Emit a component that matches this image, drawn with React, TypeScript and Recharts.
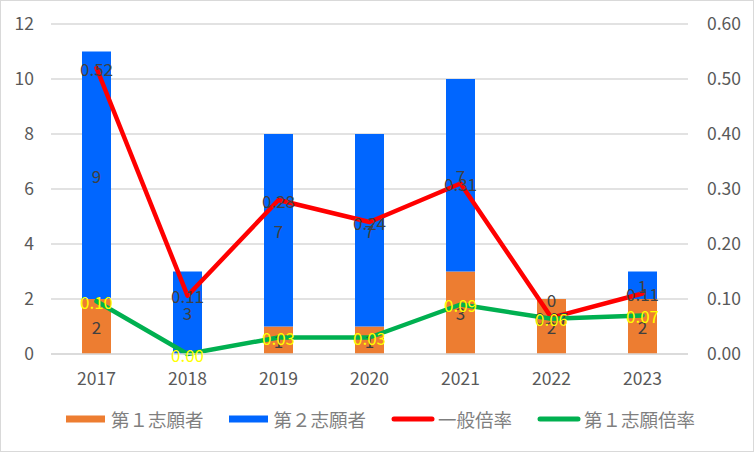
import React from "react";
import {
    ComposedChart,
    Bar,
    Line,
    XAxis,
    YAxis,
    CartesianGrid,
    LabelList,
} from "recharts";

const years = ["2017", "2018", "2019", "2020", "2021", "2022", "2023"];
const daiIchi = [2, 0, 1, 1, 3, 2, 2];
const daiNi = [9, 3, 7, 7, 7, 0, 1];
const ippanBairitsu = [0.52, 0.106, 0.28, 0.24, 0.31, 0.066, 0.11];
const daiIchiBairitsu = [0.096, 0.0, 0.03, 0.03, 0.09, 0.064, 0.07];

const leftTicks = [0, 2, 4, 6, 8, 10, 12];
const rightTicks = [0, 0.1, 0.2, 0.3, 0.4, 0.5, 0.6];

const FONT = '"Noto Sans CJK JP", "Noto Sans", sans-serif';
const ORANGE = "#ed7d31";
const BLUE = "#0066ff";
const RED = "#ff0000";
const GREEN = "#00b050";
const LABEL_SIZE = 17;

const data = years.map((y, i) => ({
    year: y,
    first: daiIchi[i],
    second: daiNi[i],
    general: ippanBairitsu[i],
    firstRate: daiIchiBairitsu[i],
}));

const tickStyle = { fill: "#595959", fontSize: 17.5, fontFamily: FONT };

// labels on the line points, centered like Excel's "center" position
function pointLabel(color: string) {
    return (p: any) => (
        <text
            x={p.x}
            y={p.y}
            textAnchor="middle"
            dominantBaseline="central"
            fill={color}
            fontSize={LABEL_SIZE}
            fontFamily={FONT}
        >
            {Number(p.value).toFixed(2)}
        </text>
    );
}

function barLabel(p: any) {
    if (p.value === undefined || p.value === null) return null;
    return (
        <text
            x={Number(p.x) + Number(p.width) / 2}
            y={Number(p.y) + Number(p.height) / 2}
            textAnchor="middle"
            dominantBaseline="central"
            fill="#404040"
            fontSize={LABEL_SIZE}
            fontFamily={FONT}
        >
            {p.value}
        </text>
    );
}

// a blue segment of 0 has no rect, so its "0" goes on top of the orange one
function zeroSecondLabel(p: any) {
    if (p.value !== 0) return null;
    return (
        <text
            x={Number(p.x) + Number(p.width) / 2}
            y={Number(p.y)}
            textAnchor="middle"
            dominantBaseline="central"
            fill="#404040"
            fontSize={LABEL_SIZE}
            fontFamily={FONT}
        >
            {p.value}
        </text>
    );
}

const legendItems = [
    { name: "第１志願者", color: ORANGE, kind: "bar" },
    { name: "第２志願者", color: BLUE, kind: "bar" },
    { name: "一般倍率", color: RED, kind: "line" },
    { name: "第１志願倍率", color: GREEN, kind: "line" },
];

export default function App() {
    return (
        <div style={{ position: "fixed", top: 0, left: 0, width: 754, height: 452, background: "#fff" }}>
            <ComposedChart
                width={754}
                height={452}
                data={data}
                margin={{ top: 24, right: 0, left: 0, bottom: 58 }}
            >
                <CartesianGrid yAxisId="left" vertical={false} stroke="#d9d9d9" strokeWidth={1.5}/>
                <XAxis
                    dataKey="year"
                    height={40}
                    tickLine={false}
                    axisLine={{ stroke: "#d9d9d9", strokeWidth: 1.5 }}
                    tick={tickStyle}
                    tickMargin={13}
                />
                <YAxis
                    yAxisId="left"
                    width={51}
                    domain={[0, 12]}
                    ticks={leftTicks}
                    tickLine={false}
                    axisLine={false}
                    tick={tickStyle}
                    tickMargin={11}
                />
                <YAxis
                    yAxisId="right"
                    orientation="right"
                    width={66}
                    domain={[0, 0.6]}
                    ticks={rightTicks}
                    tickFormatter={(v: number) => v.toFixed(2)}
                    tickLine={false}
                    axisLine={false}
                    tick={{ ...tickStyle, textAnchor: "start" }}
                    tickMargin={13}
                />
                <Bar yAxisId="left" dataKey="first" stackId="a" fill={ORANGE} barSize={29} isAnimationActive={false}>
                    <LabelList dataKey="first" content={barLabel}/>
                    <LabelList dataKey="second" content={zeroSecondLabel}/>
                </Bar>
                <Bar yAxisId="left" dataKey="second" stackId="a" fill={BLUE} barSize={29} isAnimationActive={false}>
                    <LabelList dataKey="second" content={barLabel}/>
                </Bar>
                <Line
                    yAxisId="right"
                    dataKey="general"
                    stroke={RED}
                    strokeWidth={4.5}
                    dot={false}
                    strokeLinejoin="round"
                    strokeLinecap="round"
                    isAnimationActive={false}
                >
                    <LabelList dataKey="general" content={pointLabel("#404040")}/>
                </Line>
                <Line
                    yAxisId="right"
                    dataKey="firstRate"
                    stroke={GREEN}
                    strokeWidth={4.5}
                    dot={false}
                    strokeLinejoin="round"
                    strokeLinecap="round"
                    isAnimationActive={false}
                >
                    <LabelList dataKey="firstRate" content={pointLabel("#ffff00")}/>
                </Line>
            </ComposedChart>

            <div
                style={{
                    position: "absolute",
                    top: 407,
                    left: 66,
                    display: "flex",
                    alignItems: "center",
                    gap: 25,
                    fontFamily: FONT,
                    fontSize: 18.5,
                    color: "#7f7f7f",
                    lineHeight: "24px",
                    whiteSpace: "nowrap",
                }}
            >
                {legendItems.map((it) => (
                    <div key={it.name} style={{ display: "flex", alignItems: "center" }}>
                        {it.kind === "bar" ? (
                            <svg width={39} height={8} style={{ marginRight: 6 }}>
                                <rect x={0} y={0.5} width={39} height={7} fill={it.color}/>
                            </svg>
                        ) : (
                            <svg width={44} height={8} style={{ marginRight: 3 }}>
                                <line x1={3} y1={4} x2={41} y2={4} stroke={it.color} strokeWidth={5} strokeLinecap="round"/>
                            </svg>
                        )}
                        <span>{it.name}</span>
                    </div>
                ))}
            </div>

            <div
                style={{
                    position: "absolute",
                    inset: 0,
                    border: "1.5px solid #d9d9d9",
                    pointerEvents: "none",
                }}
            />
        </div>
    );
}
